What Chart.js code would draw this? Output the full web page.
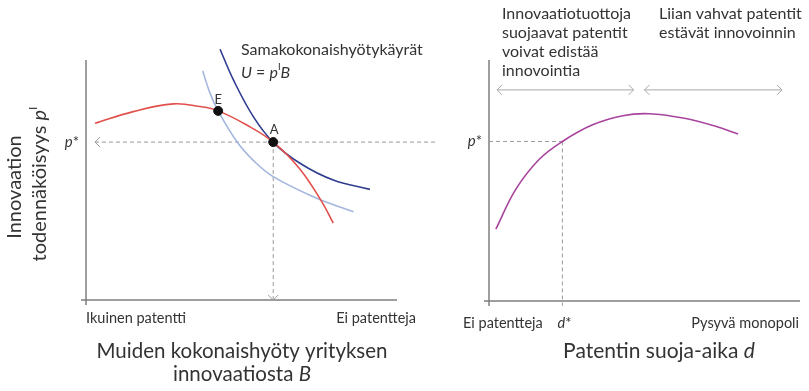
<!DOCTYPE html>
<html>
<head>
<meta charset="utf-8">
<script src="https://cdn.jsdelivr.net/npm/chart.js@4.4.1/dist/chart.umd.min.js"></script>
<style>
  body { margin: 0; background: #fff; }
  #wrap { position: relative; width: 809px; height: 391px; }
  canvas { position: absolute; left: 0; top: 0; }
</style>
</head>
<body>
<div id="wrap">
  <canvas id="leftChart" width="809" height="391"></canvas>
  <canvas id="rightChart" width="809" height="391"></canvas>
</div>
<script>
// left panel: innovation probability vs. others' benefit
const redCurve = [
  {x: 0.29, y: 7.36}, {x: 1.52, y: 7.85}, {x: 2.81, y: 8.17}, {x: 3.67, y: 8.06},
  {x: 4.25, y: 7.88}, {x: 5.17, y: 7.29}, {x: 6.02, y: 6.58}, {x: 6.85, y: 5.5},
  {x: 7.58, y: 4.10}, {x: 7.95, y: 3.20}
];
const darkBlueCurve = [
  {x: 4.31, y: 10.45}, {x: 4.74, y: 9.17}, {x: 5.38, y: 7.64}, {x: 6.02, y: 6.57},
  {x: 6.88, y: 5.70}, {x: 7.95, y: 5.00}, {x: 9.13, y: 4.61}
];
const lightBlueCurve = [
  {x: 3.75, y: 9.55}, {x: 3.99, y: 8.61}, {x: 4.25, y: 7.88}, {x: 4.86, y: 6.58},
  {x: 5.37, y: 5.83}, {x: 6.02, y: 5.14}, {x: 7.42, y: 4.24}, {x: 8.60, y: 3.68}
];
const pointE = {x: 4.25, y: 7.88};
const pointA = {x: 6.02, y: 6.58};
const leftDashStart = 0.29;
const leftDashEnd = 11.3;

// right panel: innovation probability vs. patent length
const purpleCurve = [
  {x: 0.22, y: 2.98}, {x: 0.86, y: 4.63}, {x: 1.61, y: 5.87}, {x: 2.36, y: 6.62},
  {x: 3.33, y: 7.31}, {x: 4.30, y: 7.69}, {x: 5.16, y: 7.77}, {x: 6.24, y: 7.59},
  {x: 7.31, y: 7.24}, {x: 8.01, y: 6.93}
];
const pStar = 6.62;
const dStar = 2.36;
const rangeArrows = [[0.26, 4.65], [5.0, 9.42]];
const arrowLevel = 8.76;

const TXT = '#333333';
const AXIS = '#7f7f7f';
const DASH = '#9a9a9a';
const FONT = 'Lato, "Noto Sans", sans-serif';

// draw text made of parts, some italic / superscript
function richText(ctx, parts, x, y, size, align) {
  let w = 0;
  parts.forEach(p => {
    ctx.font = (p.it ? 'italic ' : '') + (p.sup ? size * 0.6 : size) + 'px ' + FONT;
    w += ctx.measureText(p.t).width;
  });
  let cx = align === 'center' ? x - w / 2 : align === 'right' ? x - w : x;
  ctx.textAlign = 'left';
  ctx.textBaseline = 'middle';
  parts.forEach(p => {
    ctx.font = (p.it ? 'italic ' : '') + (p.sup ? size * 0.6 : size) + 'px ' + FONT;
    ctx.fillText(p.t, cx, p.sup ? y - size * 0.35 : y);
    cx += ctx.measureText(p.t).width;
  });
}

function chevron(ctx, x, y, dir) {
  const s = 5;
  ctx.beginPath();
  if (dir === 'left') { ctx.moveTo(x + s, y - s); ctx.lineTo(x, y); ctx.lineTo(x + s, y + s); }
  if (dir === 'right') { ctx.moveTo(x - s, y - s); ctx.lineTo(x, y); ctx.lineTo(x - s, y + s); }
  if (dir === 'down') { ctx.moveTo(x - s, y - s); ctx.lineTo(x, y); ctx.lineTo(x + s, y - s); }
  ctx.stroke();
}

function drawAxes(ctx, area) {
  ctx.save();
  ctx.strokeStyle = AXIS;
  ctx.lineWidth = 1.5;
  ctx.beginPath();
  ctx.moveTo(area.left, area.top);
  ctx.lineTo(area.left, area.bottom + 5);
  ctx.moveTo(area.left - 5, area.bottom);
  ctx.lineTo(area.right, area.bottom);
  ctx.stroke();
  ctx.restore();
}

function rotated(ctx, parts, x, y, size) {
  ctx.save();
  ctx.translate(x, y);
  ctx.rotate(-Math.PI / 2);
  richText(ctx, parts, 0, 0, size, 'center');
  ctx.restore();
}

const leftDecor = {
  id: 'leftDecor',
  beforeDatasetsDraw(chart) {
    drawAxes(chart.ctx, chart.chartArea);
  },
  afterDatasetsDraw(chart) {
    const ctx = chart.ctx, xs = chart.scales.x, ys = chart.scales.y;
    ctx.save();
    ctx.strokeStyle = DASH;
    ctx.lineWidth = 1;
    chevron(ctx, xs.getPixelForValue(leftDashStart), ys.getPixelForValue(pointA.y), 'left');
    chevron(ctx, xs.getPixelForValue(pointA.x), ys.getPixelForValue(0), 'down');
    ctx.fillStyle = TXT;
    richText(ctx, [{t: 'E'}], xs.getPixelForValue(pointE.x), ys.getPixelForValue(pointE.y) - 11, 13, 'center');
    richText(ctx, [{t: 'A'}], xs.getPixelForValue(pointA.x) + 1, ys.getPixelForValue(pointA.y) - 12, 13, 'center');
    richText(ctx, [{t: 'p', it: true}, {t: '*'}], chart.chartArea.left - 7, ys.getPixelForValue(pointA.y), 15, 'right');
    richText(ctx, [{t: 'Samakokonaishyötykäyrät'}], 241, 50, 16, 'left');
    richText(ctx, [{t: 'U', it: true}, {t: ' = '}, {t: 'p', it: true}, {t: 'I', sup: true}, {t: 'B', it: true}], 241, 73, 16, 'left');
    richText(ctx, [{t: 'Ikuinen patentti'}], 86, 318, 14.5, 'left');
    richText(ctx, [{t: 'Ei patentteja'}], 416, 318, 14.5, 'right');
    richText(ctx, [{t: 'Muiden kokonaishyöty yrityksen'}], 242, 351, 20.5, 'center');
    richText(ctx, [{t: 'innovaatiosta '}, {t: 'B', it: true}], 242, 374, 20.5, 'center');
    rotated(ctx, [{t: 'Innovaation'}], 15, 187, 20);
    rotated(ctx, [{t: 'todennäköisyys '}, {t: 'p', it: true}, {t: 'I', sup: true}], 40, 184, 20);
    ctx.restore();
  }
};

const rightDecor = {
  id: 'rightDecor',
  beforeDatasetsDraw(chart) {
    drawAxes(chart.ctx, chart.chartArea);
  },
  afterDatasetsDraw(chart) {
    const ctx = chart.ctx, xs = chart.scales.x, ys = chart.scales.y;
    ctx.save();
    ctx.strokeStyle = '#a8a8a8';
    ctx.lineWidth = 1;
    const ay = ys.getPixelForValue(arrowLevel);
    rangeArrows.forEach(r => {
      const x0 = xs.getPixelForValue(r[0]), x1 = xs.getPixelForValue(r[1]);
      ctx.beginPath();
      ctx.moveTo(x0, ay);
      ctx.lineTo(x1, ay);
      ctx.stroke();
      chevron(ctx, x0, ay, 'left');
      chevron(ctx, x1, ay, 'right');
    });
    ctx.fillStyle = TXT;
    richText(ctx, [{t: 'p', it: true}, {t: '*'}], chart.chartArea.left - 7, ys.getPixelForValue(pStar), 15, 'right');
    const leftNote = ['Innovaatiotuottoja', 'suojaavat patentit', 'voivat edistää', 'innovointia'];
    leftNote.forEach((t, i) => richText(ctx, [{t}], 502, 14 + i * 19, 16, 'left'));
    const rightNote = ['Liian vahvat patentit', 'estävät innovoinnin'];
    rightNote.forEach((t, i) => richText(ctx, [{t}], 659, 14 + i * 19, 16, 'left'));
    richText(ctx, [{t: 'Ei patentteja'}], 463, 323, 14.5, 'left');
    richText(ctx, [{t: 'd', it: true}, {t: '*'}], xs.getPixelForValue(dStar) + 2, 323, 14.5, 'center');
    richText(ctx, [{t: 'Pysyvä monopoli'}], 799, 323, 14.5, 'right');
    richText(ctx, [{t: 'Patentin suoja-aika '}, {t: 'd', it: true}], 659, 351, 21, 'center');
    ctx.restore();
  }
};

function curve(data, color) {
  return {
    data, borderColor: color, borderWidth: 1.6, pointRadius: 0,
    tension: 0.4, fill: false, clip: false
  };
}
function dashed(data) {
  return {
    data, borderColor: DASH, borderWidth: 1, borderDash: [4, 3], pointRadius: 0,
    fill: false, clip: false, tension: 0
  };
}

const baseOptions = (pad) => ({
  responsive: false,
  animation: false,
  events: [],
  layout: { padding: pad },
  plugins: { legend: { display: false }, tooltip: { enabled: false } },
  scales: {
    x: { type: 'linear', min: 0, max: 10, display: false },
    y: { type: 'linear', min: 0, max: 10, display: false }
  }
});

// first dataset is painted on top
new Chart(document.getElementById('leftChart'), {
  type: 'line',
  data: {
    datasets: [
      {
        data: [pointE, pointA], showLine: false, pointRadius: 4.5,
        pointBackgroundColor: '#111', pointBorderColor: '#111', clip: false
      },
      curve(redCurve, '#e2504c'),
      curve(darkBlueCurve, '#2f3c8f'),
      curve(lightBlueCurve, '#a3b7de'),
      dashed([{x: leftDashStart, y: pointA.y}, {x: leftDashEnd, y: pointA.y}]),
      dashed([{x: pointA.x, y: pointA.y}, {x: pointA.x, y: 0}])
    ]
  },
  options: baseOptions({left: 86, right: 412, top: 60, bottom: 91}),
  plugins: [leftDecor]
});

new Chart(document.getElementById('rightChart'), {
  type: 'line',
  data: {
    datasets: [
      curve(purpleCurve, '#a8449e'),
      dashed([{x: 0, y: pStar}, {x: dStar, y: pStar}]),
      dashed([{x: dStar, y: pStar}, {x: dStar, y: -0.2}])
    ]
  },
  options: baseOptions({left: 489, right: 9, top: 60, bottom: 90}),
  plugins: [rightDecor]
});
</script>
</body>
</html>
